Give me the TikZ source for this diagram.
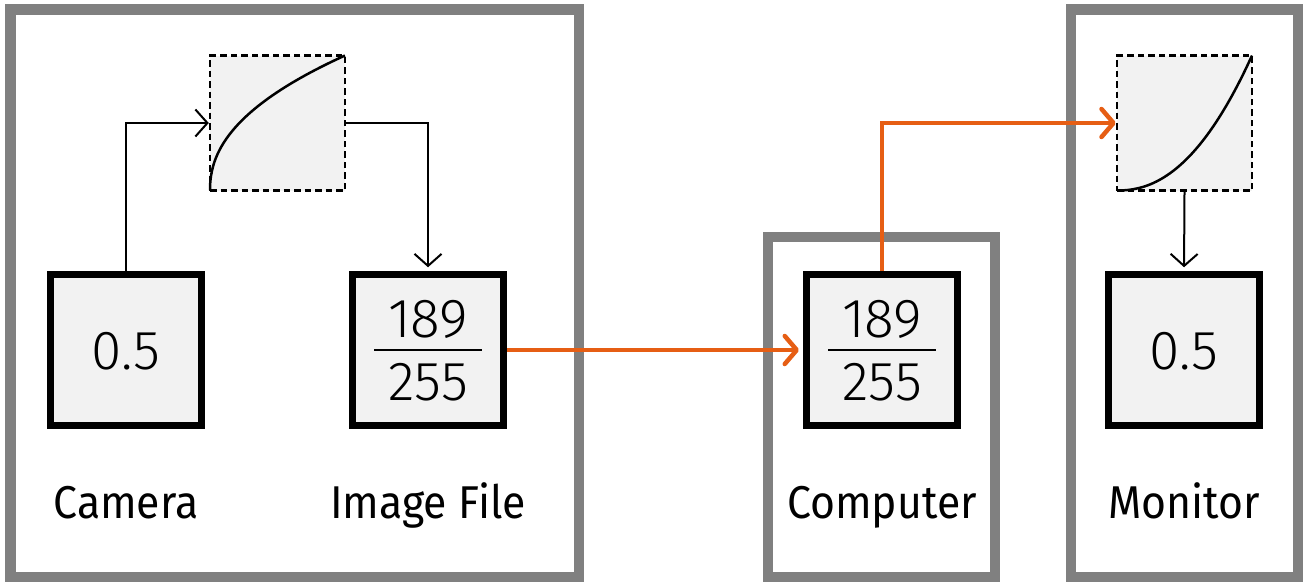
\documentclass[tikz,border=0pt]{standalone}
\usepackage{fontspec}
\setmainfont{Fira Sans}[FakeStretch=0.93]
\newfontfamily\numfont{Fira Sans Light}[FakeStretch=1.0]
\usetikzlibrary{arrows.meta,calc}
\definecolor{framegray}{RGB}{128,128,128}
\definecolor{boxfill}{RGB}{242,242,242}
\definecolor{hotorange}{RGB}{230,94,20}

\begin{document}
\begin{tikzpicture}[x=1pt,y=-1pt,
  frame/.style={draw=framegray, line width=10.5pt},
  valbox/.style={draw=black, line width=7.5pt, fill=boxfill,
    minimum width=151pt, minimum height=151pt, inner sep=0pt},
  curvebox/.style={draw=black, line width=2.5pt, dash pattern=on 6.5pt off 4pt,
    fill=boxfill, minimum size=135pt, inner sep=0pt},
  link/.style={draw=black, line width=2pt,
    -{Straight Barb[length=12pt,width=27pt,line width=2pt]}},
  hot/.style={draw=hotorange, line width=4.5pt,
    -{Straight Barb[round,length=12pt,width=28pt]}},
  lbl/.style={font=\fontsize{46}{46}\selectfont, anchor=base, inner sep=0pt},
  num/.style={font=\numfont\fontsize{55}{55}\selectfont, anchor=base, inner sep=0pt},
  fracbar/.style={line width=2pt},
  tone/.style={line width=2.5pt},
]
\useasboundingbox (0,0) rectangle (1305,581);

% enclosing frames
\draw[frame] (10.5,9.5) rectangle (579,577);
\draw[frame] (768,237) rectangle (995,577);
\draw[frame] (1071,9.5) rectangle (1298,577);

% value boxes
\node[valbox] (cam)  at (126,350) {};
\node[valbox] (file) at (428,350) {};
\node[valbox] (comp) at (882,350) {};
\node[valbox] (mon)  at (1184,350) {};

% transfer-curve boxes
\node[curvebox] (gcam) at (277.5,123) {};
\node[curvebox] (gmon) at (1184.5,123) {};

% encoding curve (x^(1/2.2)) and decoding curve (x^2.2)
\draw[tone] plot[domain=0.003:1, samples=80]
  ({210+135*\x^2.2},{190.5-135*\x});
\draw[tone] plot[domain=0.003:1, samples=80]
  ({1117+135*\x},{190.5-135*\x^2.2});

% values
\node[num] (camval) at (126,369) {0.5};
\node[num] (monval) at (1184,369) {0.5};
\node[num] (filetop) at (428,337) {189};
\node[num] (filebot) at (428,400) {255};
\draw[fracbar] (374,350) -- (482,350);
\node[num] (comptop) at (882,337) {189};
\node[num] (compbot) at (882,400) {255};
\draw[fracbar] (828,350) -- (936,350);

% labels
\node[lbl] (camlbl)  at (126,518) {Camera};
\node[lbl] (filelbl) at (428,518) {Image File};
\node[lbl] (complbl) at (882,518) {Computer};
\node[lbl] (monlbl)  at (1184,518) {Monitor};

% connectors
\draw[link] (cam.north) |- (gcam.west);
\draw[link, shorten >=3.5pt] (gcam.east) -| (file.north);
\draw[hot, shorten >=3.75pt] (file.east) -- (comp.west);
\draw[hot] (comp.north) |- (gmon.west);
\draw[link, shorten >=3.5pt] (gmon.south) -- (mon.north);
\end{tikzpicture}
\end{document}
